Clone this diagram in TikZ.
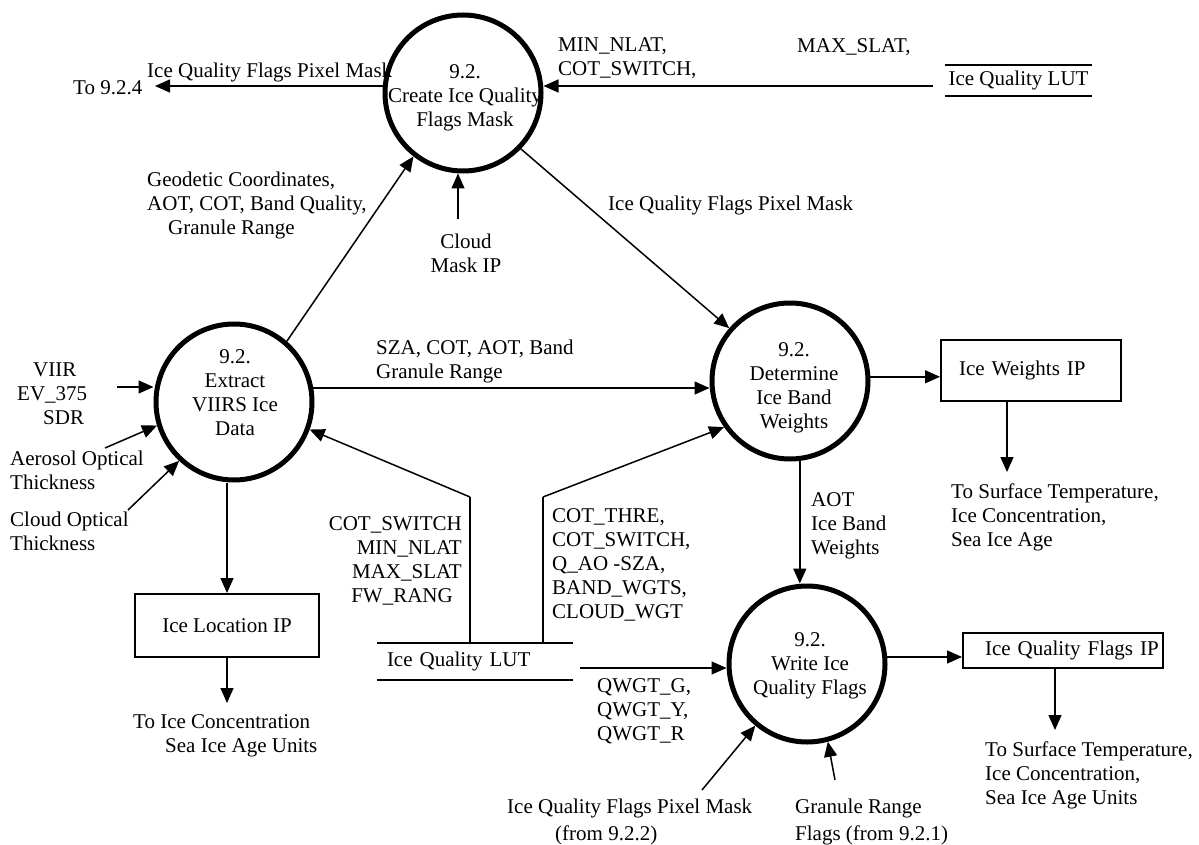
\documentclass[tikz,border=0pt]{standalone}
\usepackage{fontspec}
\setmainfont{Liberation Serif}
\usetikzlibrary{arrows.meta,calc}

\begin{document}
\begin{tikzpicture}[x=1pt, y=-1pt,
  every node/.style={font=\fontsize{21}{24}\selectfont, inner sep=0pt},
  proc/.style={circle, draw, line width=5pt, minimum size=156pt},
  flow/.style={line width=1.5pt, -{Triangle[length=15pt,width=13pt]}},
  link/.style={line width=1.5pt},
  box/.style={draw, line width=2pt},
  storeline/.style={line width=2pt},
  lbl/.style={align=left, anchor=west},
]
\useasboundingbox[fill=white] (0,0) rectangle (1199,845);

% processes
\node[proc] (A) at (463,93) {};
\node[proc] (B) at (234,402) {};
\node[proc] (C) at (790,381) {};
\node[proc] (D) at (807,664) {};
\node[align=center] (tA) at (465,98) {9.2.\\Create Ice Quality\\Flags Mask};
\node[align=center] (tB) at (235,392.5) {9.2.\\Extract\\VIIRS Ice\\Data};
\node[align=center] (tC) at (794,387.5) {9.2.\\Determine\\Ice Band\\Weights};
\node[align=center] (tD) at (810,666) {9.2.\\Write Ice\\Quality Flags};

% data stores
\node[minimum width=147pt, minimum height=31pt] (lutTop) at (1018.5,80.5) {Ice Quality LUT};
\draw[storeline] (lutTop.north west) -- (lutTop.north east)
                 (lutTop.south west) -- (lutTop.south east);
\node[minimum width=196pt, minimum height=37pt, text width=196pt, align=left] (lutBot) at (475,661.5) {\hspace*{10pt}Ice Quality LUT};
\draw[storeline] (lutBot.north west) -- (lutBot.north east)
                 (lutBot.south west) -- (lutBot.south east);

% output products
\node[box, minimum height=61pt, text width=180pt, align=left] (wbox) at (1031,370.5) {\hspace*{18pt}Ice Weights IP};
\node[box, minimum height=35pt, text width=200pt, align=left] (fbox) at (1063,650.5) {\hspace*{22pt}Ice Quality Flags IP};
\node[box, minimum width=184pt, minimum height=63pt] (locbox) at (227,625.5) {Ice Location IP};

% free ends of flows
\coordinate (toT) at (155,86);
\coordinate (lutTopT) at (933,86);
\coordinate (cloudT) at (458,219);
\coordinate (viirT) at (117,387);
\coordinate (aerT) at (105,448);
\coordinate (cotT) at (128,510);
\coordinate (k1) at (470,497);
\coordinate (k2) at (543,497);
\coordinate (qT) at (580,668);
\coordinate (wT) at (1007,472);
\coordinate (fT) at (1055,730);
\coordinate (locT) at (227,703);
\coordinate (pmT) at (702,790);
\coordinate (grT) at (835,780);

% flows
\draw[flow] (toT -| A.west) -- (toT);
\draw[flow] (lutTopT) -- (lutTopT -| A.east);
\draw[flow] (B.49) -- (A.232);
\draw[flow] (cloudT) -- (cloudT |- A.south);
\draw[flow] (A.316) -- (C.139);
\draw[flow] (B.10) -- (B.10 -| C.west);
\draw[flow] (viirT) -- (viirT -| B.west);
\draw[flow] (aerT) -- (B.197);
\draw[flow] (cotT) -- (B.227);
\draw[flow] (locbox.north |- B.south) -- (locbox.north);
\draw[flow] (locbox.south) -- (locT);
\draw[link] (k1 |- lutBot.north) -- (k1);
\draw[flow] (k1) -- (B.340);
\draw[link] (k2 |- lutBot.north) -- (k2);
\draw[flow] (k2) -- (C.215);
\draw[flow] (qT) -- (qT -| D.west);
\draw[flow] (C.3) -- (C.3 -| wbox.west);
\draw[flow] (wT |- wbox.south) -- (wT);
\draw[flow] (C.277) -- (C.277 |- D.north);
\draw[flow] (D.5) -- (D.5 -| fbox.west);
\draw[flow] (fT |- fbox.south) -- (fT);
\draw[flow] (pmT) -- (D.230);
\draw[flow] (grT) -- (D.285);

% flow labels
\node[lbl] (tMaskL) at (147,72) {Ice Quality Flags Pixel Mask};
\node[lbl] (tTo924) at (73,88) {To 9.2.4};
\node[lbl] (tMin) at (558,58.5) {MIN\_NLAT,\\COT\_SWITCH,};
\node[lbl] (tMax) at (797,47) {MAX\_SLAT,};
\node[lbl] (tGeo) at (147,205) {Geodetic Coordinates,\\AOT, COT, Band Quality,\\\hspace*{21pt}Granule Range};
\node[align=center] (tCloud) at (466,253) {Cloud\\Mask IP};
\node[lbl] (tMaskM) at (608,205) {Ice Quality Flags Pixel Mask};
\node[lbl] (tViir) at (17,394) {\hspace*{16pt}VIIR\\EV\_375\\\hspace*{26pt}SDR};
\node[lbl] (tAer) at (10,470.5) {Aerosol Optical\\Thickness};
\node[lbl] (tCot) at (10,531.5) {Cloud Optical\\Thickness};
\node[lbl] (tSza) at (376,361.5) {SZA, COT, AOT, Band\\Granule Range};
\node[lbl] (tSurf1) at (951,517.5) {To Surface Temperature,\\Ice Concentration,\\Sea Ice Age};
\node[lbl] (tAot) at (811,525.5) {AOT\\Ice Band\\Weights};
\node[align=right, anchor=east] (tLeft) at (462,561) {COT\_SWITCH\\MIN\_NLAT\\MAX\_SLAT\\FW\_RANG\hspace*{9pt}};
\node[lbl] (tRight) at (552,565) {COT\_THRE,\\COT\_SWITCH,\\Q\_AO\ -SZA,\\BAND\_WGTS,\\CLOUD\_WGT};
\node[lbl] (tQw) at (597,711) {QWGT\_G,\\QWGT\_Y,\\QWGT\_R};
\node[lbl] (tSurf2) at (985,775) {To Surface Temperature,\\Ice Concentration,\\Sea Ice Age Units};
\node[lbl] (tPm) at (507,821.5) {Ice Quality Flags Pixel Mask\\[3pt]\hspace*{48pt}(from 9.2.2)};
\node[lbl] (tGr) at (795,821.5) {Granule Range\\[3pt]Flags (from 9.2.1)};
\node[lbl] (tLoc) at (133,735.5) {To Ice Concentration\\\hspace*{32pt}Sea Ice Age Units};
\end{tikzpicture}
\end{document}
